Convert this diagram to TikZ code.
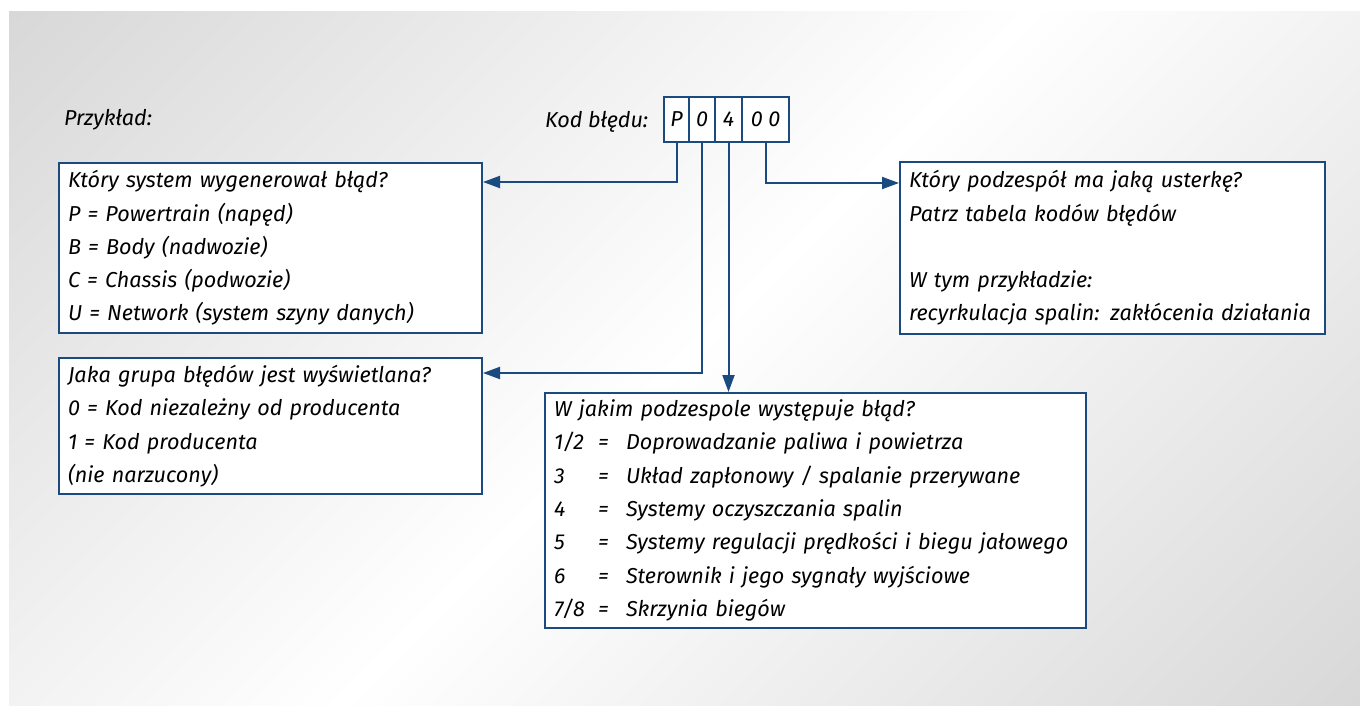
\documentclass[tikz,border=0pt]{standalone}
\usepackage{fontspec}
\setmainfont{Fira Sans}
\usetikzlibrary{arrows.meta}

\definecolor{obdblue}{HTML}{1A4A80}
\definecolor{bggray}{HTML}{C8C8C8}

\pgfdeclareverticalshading{obdbg}{100bp}{color(0bp)=(bggray); color(50bp)=(white); color(100bp)=(bggray)}

\newcommand{\obdrow}[2]{\makebox[22pt][l]{#1}\makebox[14pt][l]{=}#2}

\begin{document}
\begin{tikzpicture}[x=0.5pt,y=-0.5pt,font=\fontsize{10.8}{16.65}\selectfont\itshape]

      \useasboundingbox (0,0) rectangle (1360,706);
      \shade[shading=obdbg,shading angle=45] (9,12) rectangle (1360,706);

      \node[anchor=base west] (ex)  at (57,126)  {Przykład:};
      \node[anchor=base west] (kod) at (538,127) {Kod błędu:};

      \begin{scope}[every node/.style={draw=obdblue,line width=1pt,fill=white,minimum height=22.5pt,inner sep=0pt}]
        \node[minimum width=12.5pt] (c1) at (676.5,119.5) {P};
        \node[minimum width=13pt]   (c2) at (702,119.5)   {0};
        \node[minimum width=13.5pt] (c3) at (728.5,119.5) {4};
        \node[minimum width=23.5pt] (c4) at (765.5,119.5) {0 0};
      \end{scope}

      \begin{scope}[every node/.style={draw=obdblue,line width=1pt,fill=white,anchor=north west,
          align=left,inner xsep=4.5pt,inner ysep=0pt,text width=202.5pt}]
        \node[minimum height=85pt] (sys) at (58,162)
          {Który system wygenerował błąd?\\ P = Powertrain (napęd)\\ B = Body (nadwozie)\\
           C = Chassis (podwozie)\\ U = Network (system szyny danych)};
        \node[minimum height=68pt] (grp) at (58,357)
          {Jaka grupa błędów jest wyświetlana?\\ 0 = Kod niezależny od producenta\\
           1 = Kod producenta\\ (nie narzucony)};
        \node[minimum height=86pt,text width=203.5pt] (flt) at (899,161)
          {Który podzespół ma jaką usterkę?\\ Patrz tabela kodów błędów\\[16.65pt]
           W tym przykładzie:\\ recyrkulacja spalin: zakłócenia działania};
        \node[minimum height=117.5pt,text width=261.5pt] (sub) at (544,392)
          {W jakim podzespole występuje błąd?\\
           \obdrow{1/2}{Doprowadzanie paliwa i powietrza}\\
           \obdrow{3}{Układ zapłonowy / spalanie przerywane}\\
           \obdrow{4}{Systemy oczyszczania spalin}\\
           \obdrow{5}{Systemy regulacji prędkości i biegu jałowego}\\
           \obdrow{6}{Sterownik i jego sygnały wyjściowe}\\
           \obdrow{7/8}{Skrzynia biegów}};
      \end{scope}

      \begin{scope}[obdblue,line width=1pt,-{Triangle[length=8.5pt,width=6pt]}]
        \draw (c1.south) |- ([yshift=-10pt]sys.north east);
        \draw (c2.south) |- ([yshift=-8pt]grp.north east);
        \draw (c3.south) -- (c3.south |- sub.north);
        \draw (c4.south) |- ([yshift=-11pt]flt.north west);
      \end{scope}

    \end{tikzpicture}
\end{document}
